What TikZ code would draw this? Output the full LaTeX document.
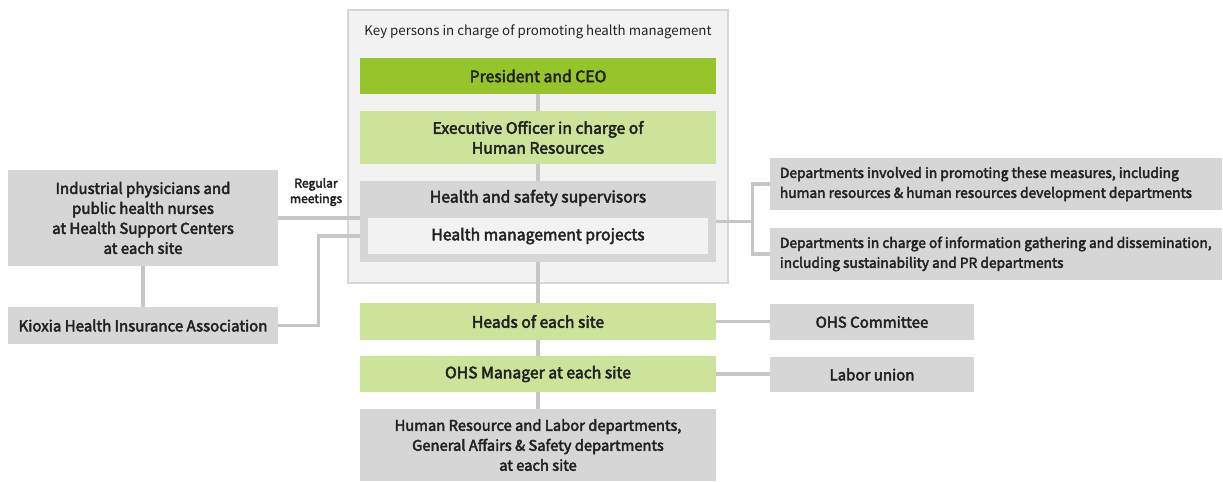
\documentclass[tikz,border=0pt]{standalone}
\usepackage{fontspec}
\setmainfont{Noto Sans CJK JP}[BoldFont={Noto Sans CJK JP},BoldFeatures={FakeBold=3}]
\usetikzlibrary{calc}
\definecolor{leafgreen}{HTML}{95C52A}
\definecolor{palegreen}{HTML}{CDE39A}
\definecolor{boxgrey}{HTML}{D6D6D6}
\definecolor{panelgrey}{HTML}{F2F2F2}
\definecolor{linegrey}{HTML}{C6C6C6}
\definecolor{inkgrey}{HTML}{222222}
\begin{document}
\begin{tikzpicture}[x=0.025cm,y=-0.025cm,
  every node/.style={text=inkgrey,inner sep=0pt},
  unit/.style={minimum width=8.9cm,font=\fontsize{11.2}{14.2}\selectfont\bfseries,align=center},
  side/.style={fill=boxgrey,font=\fontsize{10.7}{14.2}\selectfont\bfseries,align=center},
  dept/.style={fill=boxgrey,minimum width=11.3cm,minimum height=1.3cm,text width=10.8cm,
    align=flush left,font=\fontsize{9.8}{14.2}\selectfont\bfseries},
  conn/.style={draw=linegrey,line width=2.2pt}]
  \useasboundingbox (0,0) rectangle (1223,481);
  % panel of key persons
  \path[fill=panelgrey,draw=boxgrey,line width=0.8pt] (348,10) rectangle (728,283);
  \node[font=\fontsize{9.45}{11}\selectfont] (key) at (538,32) {Key persons in charge of promoting health management};
  \node[unit,fill=leafgreen,minimum height=0.9cm] (ceo) at (538,76) {President and CEO};
  \node[unit,fill=palegreen,minimum height=1.325cm] (exo) at (538,137.5) {Executive Officer in charge of\\Human Resources};
  \node[unit,fill=boxgrey,minimum height=2.025cm] (hs) at (538,221.5) {};
  \node[unit] (hss) at (538,198) {Health and safety supervisors};
  \node[unit,fill=panelgrey,minimum width=8.5cm,minimum height=0.9cm] (hmp) at (538,236) {Health management projects};
  % site level
  \node[unit,fill=palegreen,minimum height=0.925cm] (heads) at (538,321.5) {Heads of each site};
  \node[unit,fill=palegreen,minimum height=0.9cm] (ohsm) at (538,374) {OHS Manager at each site};
  \node[unit,fill=boxgrey,minimum height=1.8cm,font=\fontsize{10.5}{14.2}\selectfont\bfseries] (hrd) at (538,445)
    {Human Resource and Labor departments,\\General Affairs \& Safety departments\\at each site};
  % left side
  \node[side,minimum width=6.75cm,minimum height=2.4cm] (ind) at (143,218)
    {Industrial physicians and\\public health nurses\\at Health Support Centers\\at each site};
  \node[side,minimum width=6.75cm,minimum height=0.925cm] (kha) at (143,325.5) {Kioxia Health Insurance Association};
  \node[font=\fontsize{8.6}{11}\selectfont\bfseries,align=center] (reg) at (316,192) {Regular\\meetings};
  % right side
  \node[dept] (dep1) at (996,184) {Departments involved in promoting these measures, including\\human resources \& human resources development departments};
  \node[dept] (dep2) at (996,254) {Departments in charge of information gathering and dissemination,\\including sustainability and PR departments};
  \node[side,minimum width=5.1cm,minimum height=0.9cm] (ohsc) at (872,322) {OHS Committee};
  \node[side,minimum width=5.1cm,minimum height=0.875cm] (lab) at (872,374.5) {Labor union};
  % connectors
  \foreach \a/\b in {ceo/exo,exo/hs,hs/heads,heads/ohsm,ohsm/hrd} \draw[conn] (\a.south) -- (\b.north);
  \draw[conn] (ind.south) -- (kha.north);
  \draw[conn] (ind.east) -- (ind.east -| hs.west);
  \draw[conn] (kha.east) -- ++(40,0) |- (hmp.west -| hs.west);
  \draw[conn] (hs.east) -- ++(37,0);
  \draw[conn] (dep1.west) -- ++(-17,0) |- (dep2.west);
  \draw[conn] (heads.east) -- (heads.east -| ohsc.west);
  \draw[conn] (ohsm.east) -- (ohsm.east -| lab.west);
\end{tikzpicture}
\end{document}
